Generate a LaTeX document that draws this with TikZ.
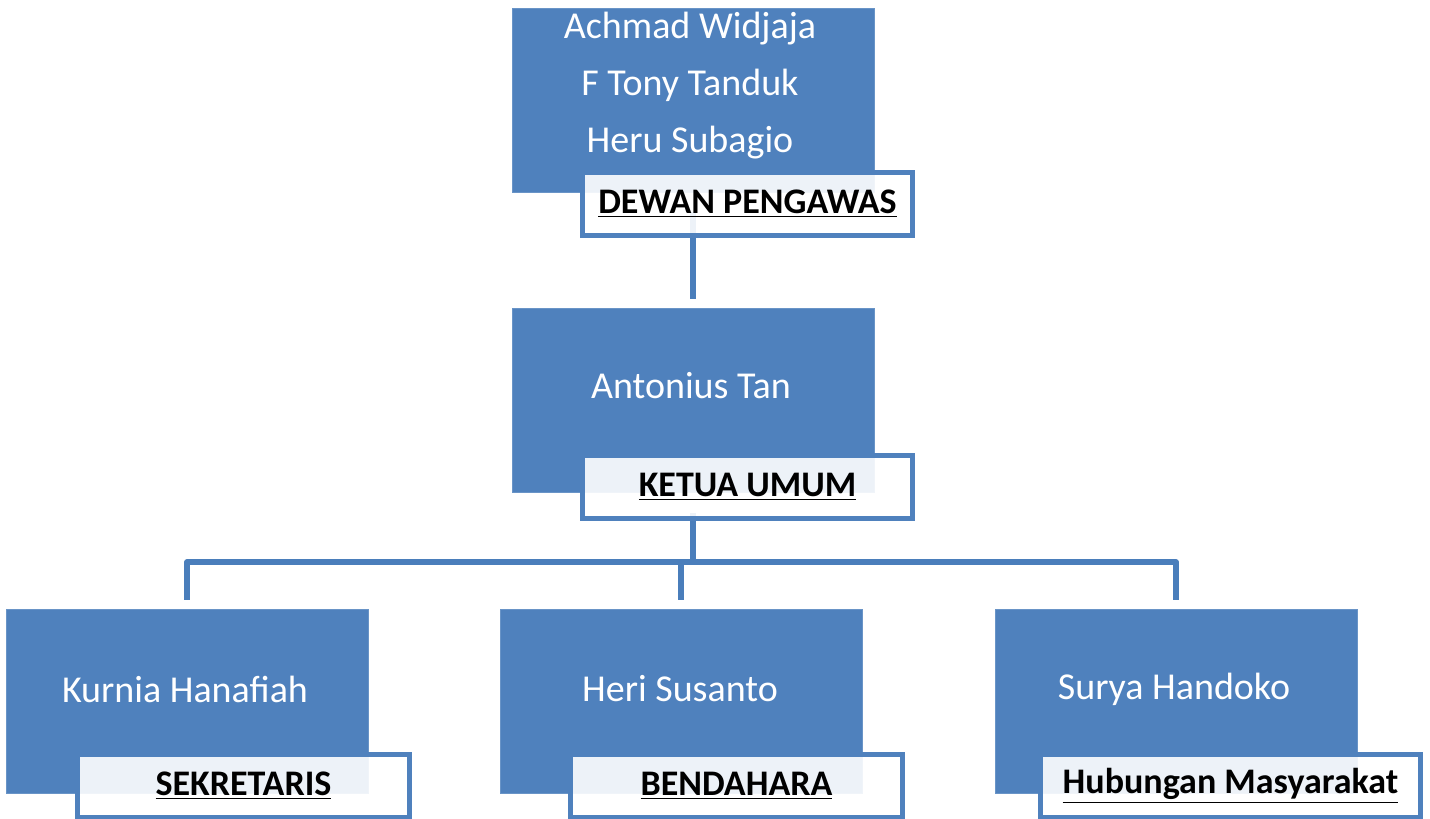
\documentclass[tikz,border=0pt]{standalone}
\usepackage{fontspec}
\setmainfont{Carlito}
\definecolor{obl}{HTML}{4F81BD}
\definecolor{cbl}{HTML}{4A7EBB}
\begin{document}
\begin{tikzpicture}[x=0.5pt,y=-0.5pt,
  bluebox/.style={rectangle,fill=obl,draw=obl!85!white,line width=0.4pt,minimum width=181pt,minimum height=92pt,inner sep=0pt},
  nametxt/.style={text=white,font=\fontsize{19}{28.5}\selectfont,align=center,inner sep=0pt},
  lblbox/.style={rectangle,fill=white,fill opacity=0.9,text opacity=1,draw=obl,line width=2.5pt,minimum height=31.5pt,inner sep=0pt,font=\fontsize{18}{22}\selectfont\bfseries},
  conn/.style={draw=cbl,line width=2.6pt,line join=round}]
\path[use as bounding box] (0,0) rectangle (1430,819);
% blue boxes
\node[bluebox] (dp) at (693,100) {};
\node[bluebox] (ku) at (693,400.5) {};
\node[bluebox] (kh) at (187,701) {};
\node[bluebox] (hs) at (681,701) {};
\node[bluebox] (sh) at (1176,701) {};
% names
\node[nametxt] (dpn) at (690,86) {Achmad Widjaja\\F Tony Tanduk\\Heru Subagio};
\node[nametxt] (kun) at (691,386) {Antonius Tan};
\node[nametxt] (khn) at (185,689) {Kurnia Hanafiah};
\node[nametxt] (hsn) at (680,689) {Heri Susanto};
\node[nametxt] (shn) at (1174,689) {Surya Handoko};
% connectors
\coordinate (bus) at (0,562);
\draw[conn] (dp.south) ++(0,20) -- ([yshift=4.5pt]ku.north);
\draw[conn] (ku.south) ++(0,20) -- (ku.south |- bus);
\draw[conn] (ku.south |- bus) -| ([yshift=4.5pt]kh.north);
\draw[conn] (ku.south |- bus) -| ([yshift=4.5pt]sh.north);
\draw[conn] (hs.north |- bus) -- ([yshift=4.5pt]hs.north);
% label boxes
\node[lblbox,minimum width=165pt] (dpl) at (747.5,204) {\underline{DEWAN PENGAWAS}};
\node[lblbox,minimum width=165pt] (kul) at (747.5,486.5) {\underline{KETUA UMUM}};
\node[lblbox,minimum width=166pt] (khl) at (243.5,785.5) {\underline{SEKRETARIS}};
\node[lblbox,minimum width=166pt] (hsl) at (736.5,785.5) {\underline{BENDAHARA}};
\node[lblbox,minimum width=190pt] (shl) at (1230.5,785.5) {\underline{Hubungan Masyarakat}};
\end{tikzpicture}
\end{document}
